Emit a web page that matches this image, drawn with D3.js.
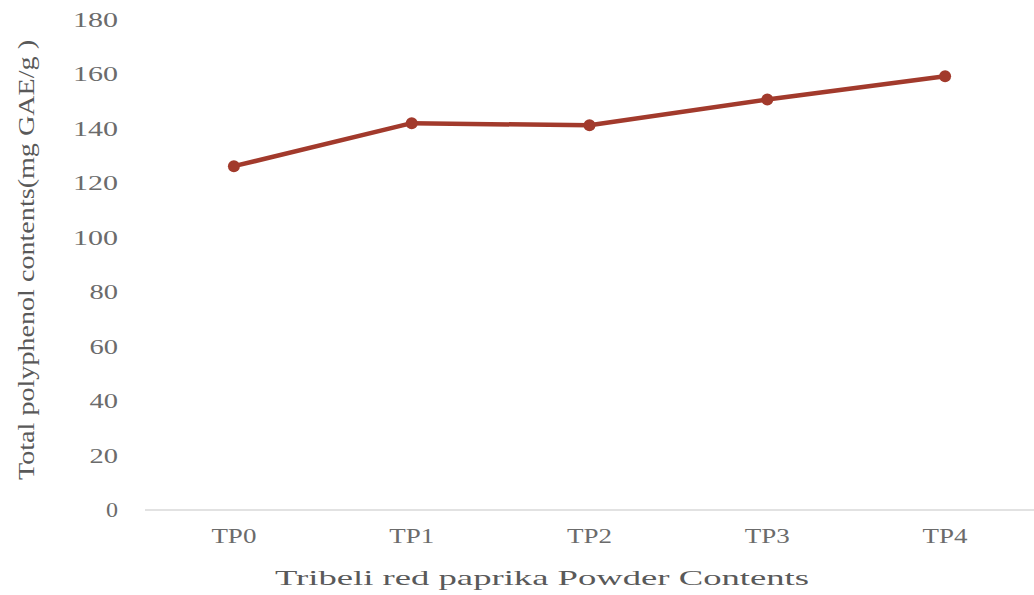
<!DOCTYPE html>
<html>
<head>
<meta charset="utf-8">
<script src="https://cdn.jsdelivr.net/npm/d3@7"></script>
<style>
  body { margin: 0; background: #fff; }
  text { font-family: "Liberation Serif", "DejaVu Serif", serif; }
</style>
</head>
<body>
<svg id="chart" width="1034" height="595"></svg>
<script>
// data
var categories = ["TP0", "TP1", "TP2", "TP3", "TP4"];
var polyphenol = [126.3, 142.1, 141.3, 150.8, 159.3];
var yTicks = [0, 20, 40, 60, 80, 100, 120, 140, 160, 180];

var svg = d3.select("#chart");

var xScale = d3.scalePoint()
	.domain(categories)
	.range([145, 1034])
	.padding(0.5);

var yScale = d3.scaleLinear()
	.domain([0, 180])
	.range([510, 20]);

// char-width-ish fit, the original text is stretched sideways
function fitLen(s) {
	return s.length * 16.5 - 4.5;
}

// x axis baseline
svg.append("line")
	.attr("x1", 145)
	.attr("x2", 1034)
	.attr("y1", yScale(0))
	.attr("y2", yScale(0))
	.attr("stroke", "#d9d9d9")
	.attr("stroke-width", 1.5);

// y tick labels
svg.append("g")
	.selectAll("text")
	.data(yTicks)
	.enter()
	.append("text")
	.attr("x", 118)
	.attr("y", function(d) {return yScale(d);})
	.attr("dy", "0.35em")
	.attr("text-anchor", "end")
	.attr("font-size", 20)
	.attr("fill", "#6b6b6b")
	.attr("textLength", function(d) {return fitLen(String(d));})
	.attr("lengthAdjust", "spacingAndGlyphs")
	.text(function(d) {return d;});

// x tick labels
svg.append("g")
	.selectAll("text")
	.data(categories)
	.enter()
	.append("text")
	.attr("x", function(d) {return xScale(d);})
	.attr("y", 543)
	.attr("text-anchor", "middle")
	.attr("font-size", 20)
	.attr("fill", "#6b6b6b")
	.attr("textLength", function(d) {return fitLen(d);})
	.attr("lengthAdjust", "spacingAndGlyphs")
	.text(function(d) {return d;});

// axis titles
svg.append("text")
	.attr("x", 542)
	.attr("y", 585)
	.attr("text-anchor", "middle")
	.attr("font-size", 22)
	.attr("fill", "#595959")
	.attr("textLength", 534)
	.attr("lengthAdjust", "spacingAndGlyphs")
	.text("Tribeli red paprika Powder Contents");

svg.append("text")
	.attr("transform", "translate(34,260) rotate(-90)")
	.attr("text-anchor", "middle")
	.attr("font-size", 24)
	.attr("fill", "#595959")
	.attr("textLength", 440)
	.attr("lengthAdjust", "spacingAndGlyphs")
	.text("Total polyphenol contents(mg GAE/g )");

// the series
var pts = categories.map(function(c, i) {return {cat: c, val: polyphenol[i]};});

var line = d3.line()
	.x(function(d) {return xScale(d.cat);})
	.y(function(d) {return yScale(d.val);});

svg.append("path")
	.datum(pts)
	.attr("d", line)
	.attr("fill", "none")
	.attr("stroke", "#a23a2c")
	.attr("stroke-width", 4.5)
	.attr("stroke-linejoin", "round");

svg.append("g")
	.selectAll("circle")
	.data(pts)
	.enter()
	.append("circle")
	.attr("cx", function(d) {return xScale(d.cat);})
	.attr("cy", function(d) {return yScale(d.val);})
	.attr("r", 6)
	.attr("fill", "#a23a2c");
</script>
</body>
</html>
